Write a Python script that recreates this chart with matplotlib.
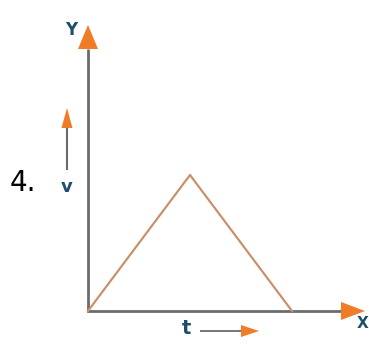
import matplotlib
matplotlib.use("Agg")
import matplotlib.pyplot as plt
from matplotlib.patches import Polygon
import math

# Data: velocity-time graph (triangle)
time = [0, 1, 2]
velocity = [0, 1, 0]

W, H = 369, 347
fig = plt.figure(figsize=(W / 100, H / 100), dpi=100)
ax = fig.add_axes([0, 0, 1, 1])

# pixel scale: origin at (88, 311), 1 unit x = 102 px, 1 unit y = 136 px
ox, oy, sx, sy = 88, 311, 102, 136
ax.set_xlim(-ox / sx, (W - ox) / sx)
ax.set_ylim(-(H - oy) / sy, oy / sy)
ax.axis("off")

def px(x, y):
    return (x - ox) / sx, (oy - y) / sy

axis_col = "#6b6b6b"
head_col = "#f07c28"
tri_col = "#c9926c"
txt_col = "#1e4f6a"

def arrow(x0, y0, x1, y1, hl, hw, lw=1.6, col=axis_col):
    dx, dy = x1 - x0, y1 - y0
    L = math.hypot(dx, dy)
    ux, uy = dx / L, dy / L
    bx, by = x1 - ux * hl, y1 - uy * hl
    ax.plot(*zip(px(x0, y0), px(bx, by)), color=col, lw=lw, solid_capstyle="butt", zorder=2)
    nx, ny = -uy, ux
    pts = [px(x1, y1), px(bx + nx * hw / 2, by + ny * hw / 2), px(bx - nx * hw / 2, by - ny * hw / 2)]
    ax.add_patch(Polygon(pts, closed=True, color=head_col, lw=0, zorder=3))

# axes
arrow(88, 312, 88, 25, 24, 20, lw=2.0)
arrow(87, 311, 365, 311, 24, 18, lw=2.0)
# small arrows
arrow(67, 170, 67, 108, 20, 11, lw=1.5)
arrow(200, 331, 259, 331, 18, 12, lw=1.3)

# triangle
ax.plot(time, velocity, color=tri_col, lw=1.6, zorder=2)

# labels
ax.text(*px(71, 30), "Y", color=txt_col, fontsize=12, fontweight="bold", ha="center", va="center")
ax.text(*px(67, 187), "v", color=txt_col, fontsize=13, fontweight="bold", ha="center", va="center")
ax.text(*px(186, 329), "t", color=txt_col, fontsize=14, fontweight="bold", ha="center", va="center")
ax.text(*px(357, 324), "X", color=txt_col, fontsize=11, fontweight="bold", ha="left", va="center")
ax.text(*px(10, 183), "4.", color="black", fontsize=20, ha="left", va="center")

fig.savefig("out.png", dpi=100)
